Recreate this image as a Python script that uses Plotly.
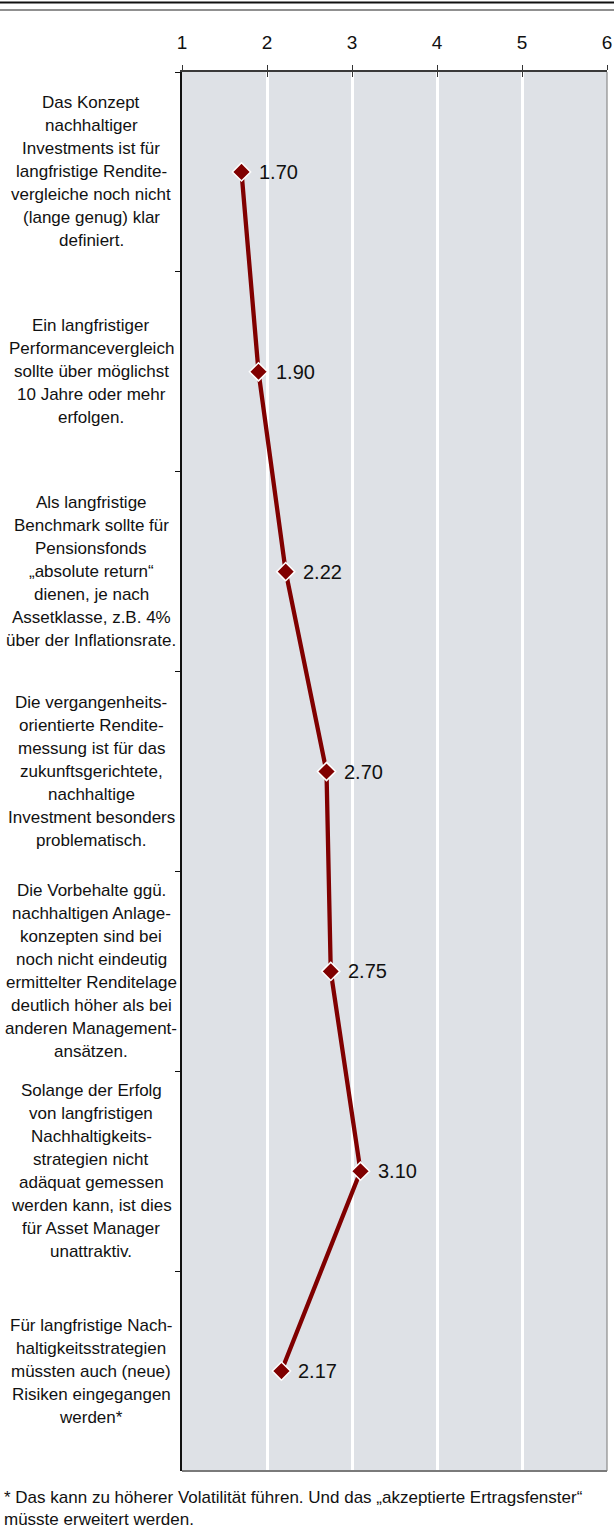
import plotly.graph_objects as go

# Statements (category axis), one entry per line of the wrapped label
statements = [
    ["Das Konzept", "nachhaltiger", "Investments ist für", "langfristige Rendite-",
     "vergleiche noch nicht", "(lange genug) klar", "definiert."],
    ["Ein langfristiger", "Performancevergleich", "sollte über möglichst",
     "10 Jahre oder mehr", "erfolgen."],
    ["Als langfristige", "Benchmark sollte für", "Pensionsfonds", "„absolute return“",
     "dienen, je nach", "Assetklasse, z.B. 4%", "über der Inflationsrate."],
    ["Die vergangenheits-", "orientierte Rendite-", "messung ist für das",
     "zukunftsgerichtete,", "nachhaltige", "Investment besonders", "problematisch."],
    ["Die Vorbehalte ggü.", "nachhaltigen Anlage-", "konzepten sind bei",
     "noch nicht eindeutig", "ermittelter Renditelage", "deutlich höher als bei",
     "anderen Management-", "ansätzen."],
    ["Solange der Erfolg", "von langfristigen", "Nachhaltigkeits-", "strategien nicht",
     "adäquat gemessen", "werden kann, ist dies", "für Asset Manager", "unattraktiv."],
    ["Für langfristige Nach-", "haltigkeitsstrategien", "müssten auch (neue)",
     "Risiken eingegangen", "werden*"],
]
mean_scores = [1.70, 1.90, 2.22, 2.70, 2.75, 3.10, 2.17]
scale_ticks = [1, 2, 3, 4, 5, 6]
footnote_lines = [
    "* Das kann zu höherer Volatilität führen. Und das „akzeptierte Ertragsfenster“",
    "müsste erweitert werden.",
]

categories = [" ".join(s) for s in statements]

W, H = 614, 1532
ML, MR, MT, MB = 182, 7, 72, 61
PW, PH = W - ML - MR, H - MT - MB

FONT = "Liberation Sans, Arial, sans-serif"
DARK_RED = "#800000"
TEXT = "#111111"


def px_x(px):
    """Horizontal page pixel -> paper coordinate."""
    return (px - ML) / PW


def px_y(py):
    """Vertical page pixel (from top) -> paper coordinate."""
    return 1 - (py - MT) / PH


fig = go.Figure()

fig.add_trace(go.Scatter(
    x=mean_scores,
    y=categories,
    mode="lines+markers",
    line=dict(color=DARK_RED, width=4.3),
    marker=dict(symbol="diamond", size=14, color=DARK_RED,
                line=dict(color="white", width=1.5)),
    hoverinfo="x",
    showlegend=False,
    cliponaxis=False,
))

# invisible companion trace so the inner tick marks on the overlaid axis render
fig.add_trace(go.Scatter(
    x=[scale_ticks[0]], y=[categories[0]], xaxis="x2", mode="markers",
    marker=dict(opacity=0), hoverinfo="skip", showlegend=False,
))

annotations = []

# wrapped statement labels, centred left of the plot
LINE_H = 23
for cat, lines in zip(categories, statements):
    n = len(lines)
    for i, line in enumerate(lines):
        annotations.append(dict(
            x=px_x(91), xref="paper", y=cat, yref="y",
            text=line, showarrow=False, xanchor="center", yanchor="middle",
            yshift=((n - 1) / 2 - i) * LINE_H,
            font=dict(family=FONT, size=17, color=TEXT),
        ))

# value labels to the right of each marker
for cat, v in zip(categories, mean_scores):
    annotations.append(dict(
        x=v, xref="x", y=cat, yref="y",
        text=f"{v:.2f}", showarrow=False, xanchor="left", yanchor="middle",
        xshift=15, yshift=0,
        font=dict(family=FONT, size=20, color=TEXT),
    ))

# footnote
for i, line in enumerate(footnote_lines):
    annotations.append(dict(
        x=px_x(2), xref="paper", y=px_y(1497 + i * 22), yref="paper",
        text=line, showarrow=False, xanchor="left", yanchor="middle",
        font=dict(family=FONT, size=17, color=TEXT),
    ))

shapes = [
    # double rule across the top of the page
    dict(type="line", xref="paper", yref="paper", x0=px_x(0), x1=px_x(W),
         y0=px_y(2.5), y1=px_y(2.5), line=dict(color="#111111", width=2.2)),
    dict(type="line", xref="paper", yref="paper", x0=px_x(0), x1=px_x(W),
         y0=px_y(10), y1=px_y(10), line=dict(color="#222222", width=1.2)),
    # grey frame on the right and bottom of the plot area
    dict(type="line", xref="paper", yref="paper", x0=1, x1=1, y0=0, y1=1,
         line=dict(color="#8a8a8a", width=1.2)),
    dict(type="line", xref="paper", yref="paper", x0=0, x1=1, y0=0, y1=0,
         line=dict(color="#7a7a7a", width=2)),
]

fig.update_layout(
    width=W, height=H,
    margin=dict(l=ML, r=MR, t=MT, b=MB, pad=0),
    paper_bgcolor="white",
    plot_bgcolor="#dee1e6",
    font=dict(family=FONT, size=16, color=TEXT),
    xaxis=dict(
        side="top", range=[1, 6], tickvals=scale_ticks,
        ticktext=[str(t) for t in scale_ticks],
        ticks="outside", ticklen=5, tickwidth=1.2, tickcolor="#333333",
        ticklabelstandoff=9,
        showline=True, linecolor="#3a3a3a", linewidth=1.6,
        showgrid=True, gridcolor="white", gridwidth=2.5,
        zeroline=False, tickfont=dict(family=FONT, size=19, color=TEXT),
        fixedrange=True, automargin=False,
    ),
    xaxis2=dict(
        overlaying="x", side="top", range=[1, 6], tickvals=scale_ticks,
        ticks="inside", ticklen=5, tickwidth=1.2, tickcolor="#333333",
        showticklabels=False, showgrid=False, showline=False, zeroline=False,
        fixedrange=True, automargin=False,
    ),
    yaxis=dict(
        type="category", categoryorder="array", categoryarray=categories,
        range=[len(categories) - 0.5, -0.5],
        showticklabels=False, ticks="outside", ticklen=5, tickwidth=1.2,
        tickcolor="#111111", tickson="boundaries",
        showline=True, linecolor="#111111", linewidth=1.6,
        showgrid=False, zeroline=False, fixedrange=True, automargin=False,
    ),
    annotations=annotations,
    shapes=shapes,
)

fig.write_html("out.html")
